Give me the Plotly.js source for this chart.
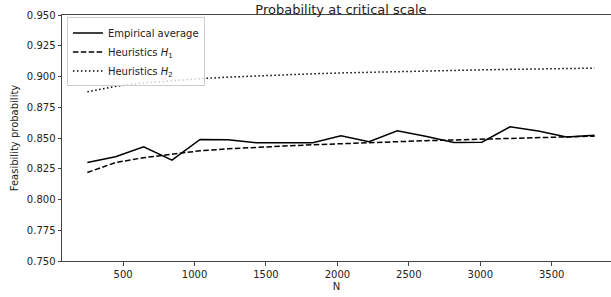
<!DOCTYPE html>
<html>
<head>
<meta charset="utf-8">
<script src="https://cdn.plot.ly/plotly-3.0.1.min.js"></script>
<style>html,body{margin:0;padding:0;background:#fff;}#chart{width:611px;height:297px;}</style>
</head>
<body>
<div id="chart"></div>
<script>
const N = [250, 447, 644, 842, 1039, 1236, 1433, 1631, 1828, 2025, 2222, 2419, 2617, 2814, 3011, 3208, 3406, 3603, 3800];
const empirical = [0.8300, 0.8347, 0.8428, 0.8320, 0.8488, 0.8486, 0.8461, 0.8464, 0.8462, 0.8518, 0.8469, 0.8558, 0.8515, 0.8464, 0.8466, 0.8591, 0.8556, 0.8509, 0.8523];
const heurH1 = [0.8220, 0.8300, 0.8340, 0.8370, 0.8396, 0.8412, 0.8425, 0.8435, 0.8445, 0.8455, 0.8462, 0.8470, 0.8478, 0.8485, 0.8490, 0.8497, 0.8503, 0.8510, 0.8515];
const heurH2 = [0.8875, 0.8920, 0.8948, 0.8967, 0.8982, 0.8995, 0.9005, 0.9014, 0.9022, 0.9029, 0.9035, 0.9040, 0.9045, 0.9050, 0.9054, 0.9058, 0.9062, 0.9065, 0.9068];
const names = ['Empirical average', 'Heuristics <i>H</i><sub>1</sub>', 'Heuristics <i>H</i><sub>2</sub>'];
const xTicks = [500, 1000, 1500, 2000, 2500, 3000, 3500];
const yTicks = [0.750, 0.775, 0.800, 0.825, 0.850, 0.875, 0.900, 0.925, 0.950];

const font = 'DejaVu Sans, sans-serif';
const traces = [
  {x: N, y: empirical, name: names[0], mode: 'lines', line: {color: '#000', width: 1.5}},
  {x: N, y: heurH1, name: names[1], mode: 'lines', line: {color: '#000', width: 1.5, dash: '5.5px,2.4px'}},
  {x: N, y: heurH2, name: names[2], mode: 'lines', line: {color: '#000', width: 1.5, dash: '1.5px,2.5px'}}
];
const layout = {
  width: 611, height: 297,
  margin: {l: 62, r: 0, t: 15, b: 36},
  paper_bgcolor: '#fff', plot_bgcolor: '#fff',
  font: {family: font, size: 10, color: '#222'},
  title: {text: 'Probability at critical scale', font: {family: font, size: 13, color: '#222'}, x: 0.558, xanchor: 'center', y: 0.985, yanchor: 'top', yref: 'container'},
  showlegend: true,
  legend: {x: 0.009, y: 0.99, xanchor: 'left', yanchor: 'top', bgcolor: 'rgba(255,255,255,0.8)', bordercolor: '#ccc', borderwidth: 1, font: {family: font, size: 10, color: '#222'}, itemwidth: 30, tracegroupgap: 0},
  xaxis: {range: [72.5, 3915], tickvals: xTicks, ticktext: xTicks.map(String), showgrid: false, zeroline: false, showline: true, mirror: true, linecolor: '#444', linewidth: 1, ticks: 'outside', ticklen: 3.5, tickcolor: '#444', tickfont: {family: font, size: 10, color: '#222'}, title: {text: 'N', font: {family: font, size: 10, color: '#222'}, standoff: 4}},
  yaxis: {range: [0.75, 0.95], tickvals: yTicks, ticktext: yTicks.map(v => v.toFixed(3)), showgrid: false, zeroline: false, showline: true, linecolor: '#444', linewidth: 1, ticks: 'outside', ticklen: 3.5, tickcolor: '#444', tickfont: {family: font, size: 10, color: '#222'}, title: {text: 'Feasibility probability', font: {family: font, size: 10, color: '#222'}, standoff: 6}}
};
Plotly.newPlot('chart', traces, layout, {displayModeBar: false, staticPlot: true});
</script>
</body>
</html>
